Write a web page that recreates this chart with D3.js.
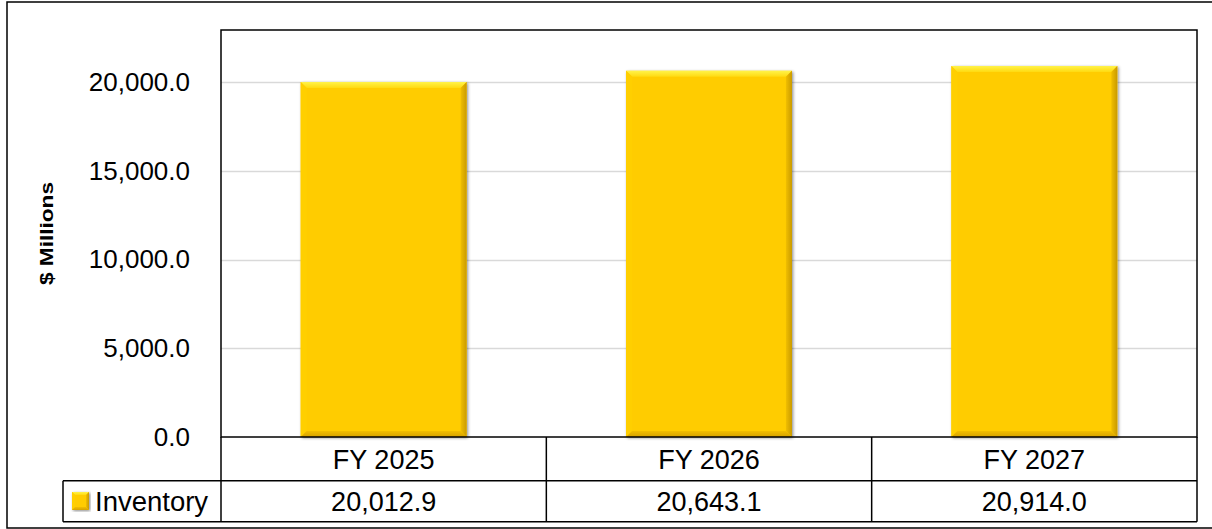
<!DOCTYPE html>
<html>
<head>
<meta charset="utf-8">
<script src="https://cdn.jsdelivr.net/npm/d3@7"></script>
<style>
  html, body { margin: 0; padding: 0; background: #fff; }
  svg { display: block; font-family: "Liberation Sans", Arial, sans-serif; }
</style>
</head>
<body>
<svg id="chart" width="1212" height="529"></svg>
<script>
// ---- data ----
const categories = ["FY 2025", "FY 2026", "FY 2027"];
const seriesName = "Inventory";
const inventoryValues = [20012.9, 20643.1, 20914.0];
const yTicks = [0, 5000, 10000, 15000, 20000];
const yAxisTitle = "$ Millions";

// ---- layout ----
const W = 1212, H = 529;
const plot = { left: 221, right: 1197, top: 29, bottom: 437 };
const tableRow1 = 480.7, tableRow2 = 521.7, legendLeft = 63;

const svg = d3.select("#chart");
const defs = svg.append("defs");

const shadow = defs.append("filter").attr("id", "shadow")
  .attr("x", "-10%").attr("y", "-10%").attr("width", "120%").attr("height", "120%");
shadow.append("feDropShadow").attr("dx", 1.2).attr("dy", 1).attr("stdDeviation", 1.8)
  .attr("flood-color", "#000").attr("flood-opacity", 0.45);

const gTop = defs.append("linearGradient").attr("id", "gTop").attr("x1", 0).attr("y1", 0).attr("x2", 0).attr("y2", 1);
gTop.append("stop").attr("offset", 0).attr("stop-color", "#FFF34A");
gTop.append("stop").attr("offset", 1).attr("stop-color", "#FFDA10");
const gRight = defs.append("linearGradient").attr("id", "gRight").attr("x1", 0).attr("y1", 0).attr("x2", 1).attr("y2", 0);
gRight.append("stop").attr("offset", 0).attr("stop-color", "#F0BE00");
gRight.append("stop").attr("offset", 1).attr("stop-color", "#C99A00");
const gBottom = defs.append("linearGradient").attr("id", "gBottom").attr("x1", 0).attr("y1", 0).attr("x2", 0).attr("y2", 1);
gBottom.append("stop").attr("offset", 0).attr("stop-color", "#F2BE00");
gBottom.append("stop").attr("offset", 1).attr("stop-color", "#D6A200");

// outer border
svg.append("rect").attr("x", 7).attr("y", 2).attr("width", W).attr("height", 526)
  .attr("fill", "none").attr("stroke", "#000").attr("stroke-width", 1.5);

// scales
const x = d3.scaleBand().domain(categories).range([plot.left, plot.right])
  .paddingInner(0.49).paddingOuter(0.245);
const xCell = d3.scaleBand().domain(categories).range([plot.left, plot.right]).padding(0);
const y = d3.scaleLinear().domain([0, 23000]).range([plot.bottom, plot.top]);

// gridlines
svg.append("g").selectAll("line").data(yTicks.filter(d => d > 0)).join("line")
  .attr("x1", plot.left).attr("x2", plot.right)
  .attr("y1", d => Math.round(y(d)) + 0.5).attr("y2", d => Math.round(y(d)) + 0.5)
  .attr("stroke", "#D9D9D9").attr("stroke-width", 1.3);

// y axis labels
const yAxis = d3.axisLeft(y).tickValues(yTicks).tickFormat(d3.format(",.1f")).tickSize(0).tickPadding(0);
const gy = svg.append("g").attr("transform", "translate(190,0)").call(yAxis);
gy.select(".domain").remove();
gy.selectAll("text").attr("font-size", 26).attr("fill", "#000")
  .attr("font-family", "'Liberation Sans', Arial, sans-serif");

// axis title
svg.append("text").attr("transform", "translate(53,233.5) rotate(-90)")
  .attr("text-anchor", "middle").attr("font-size", 18).attr("font-weight", "bold")
  .attr("textLength", 103).attr("lengthAdjust", "spacingAndGlyphs")
  .attr("fill", "#000").text(yAxisTitle);

// bevelled bar drawing
function bevelBar(g, x0, x1, y0, y1, b) {
  g.append("rect").attr("x", x0).attr("y", y0).attr("width", x1 - x0).attr("height", y1 - y0)
    .attr("fill", "#FFCC00").attr("filter", "url(#shadow)");
  const pts = a => a.map(p => p.join(",")).join(" ");
  g.append("polygon").attr("points", pts([[x0, y0], [x1, y0], [x1 - b, y0 + b], [x0 + b, y0 + b]])).attr("fill", "url(#gTop)");
  g.append("polygon").attr("points", pts([[x0, y0], [x0 + b, y0 + b], [x0 + b, y1 - b], [x0, y1]])).attr("fill", "#FFCF00");
  g.append("polygon").attr("points", pts([[x1, y0], [x1, y1], [x1 - b, y1 - b], [x1 - b, y0 + b]])).attr("fill", "url(#gRight)");
  g.append("polygon").attr("points", pts([[x0, y1], [x1, y1], [x1 - b, y1 - b], [x0 + b, y1 - b]])).attr("fill", "url(#gBottom)");
}

const bars = svg.append("g");
categories.forEach((c, i) => {
  const g = bars.append("g");
  bevelBar(g, x(c), x(c) + x.bandwidth(), y(inventoryValues[i]), y(0), 6);
});

// plot border & table lines
const lines = svg.append("g").attr("stroke", "#000").attr("stroke-width", 1.5).attr("fill", "none");
lines.append("rect").attr("x", plot.left).attr("y", plot.top + 1).attr("width", plot.right - plot.left).attr("height", plot.bottom - plot.top - 1);
lines.append("line").attr("x1", plot.left).attr("x2", plot.left).attr("y1", plot.bottom).attr("y2", tableRow2);
lines.append("line").attr("x1", plot.right).attr("x2", plot.right).attr("y1", plot.bottom).attr("y2", tableRow2);
lines.append("line").attr("x1", legendLeft).attr("x2", plot.right).attr("y1", tableRow1).attr("y2", tableRow1);
lines.append("line").attr("x1", legendLeft).attr("x2", plot.right).attr("y1", tableRow2).attr("y2", tableRow2);
lines.append("line").attr("x1", legendLeft).attr("x2", legendLeft).attr("y1", tableRow1).attr("y2", tableRow2);
categories.slice(1).forEach(c => {
  lines.append("line").attr("x1", xCell(c)).attr("x2", xCell(c)).attr("y1", plot.bottom).attr("y2", tableRow2);
});

// category labels
svg.append("g").selectAll("text").data(categories).join("text")
  .attr("x", d => xCell(d) + xCell.bandwidth() / 2).attr("y", 468.5)
  .attr("text-anchor", "middle").attr("font-size", 27).attr("fill", "#000").text(d => d);

// values row
const fmt = d3.format(",.1f");
svg.append("g").selectAll("text").data(inventoryValues).join("text")
  .attr("x", (d, i) => xCell(categories[i]) + xCell.bandwidth() / 2).attr("y", 511)
  .attr("text-anchor", "middle").attr("font-size", 27).attr("fill", "#000").text(d => fmt(d));

// legend key + name
const lg = svg.append("g");
bevelBar(lg, 72, 89, 492, 510, 3);
svg.append("text").attr("x", 95).attr("y", 511).attr("font-size", 27.5).attr("fill", "#000").text(seriesName);
</script>
</body>
</html>
